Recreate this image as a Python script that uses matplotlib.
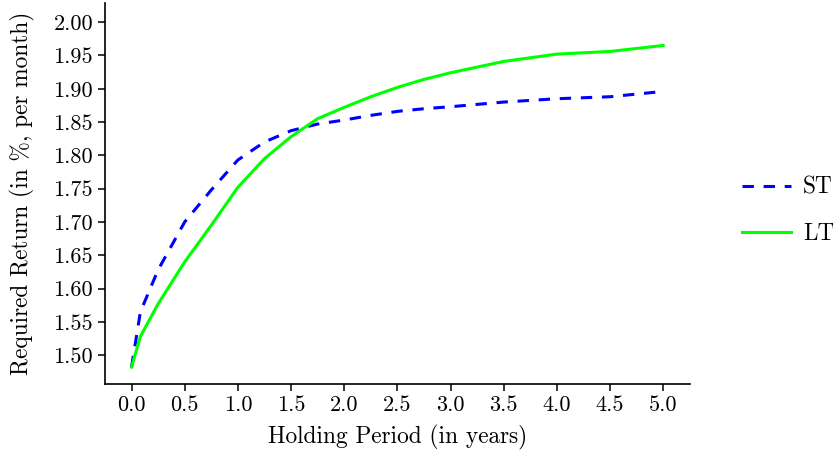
import numpy as np
import matplotlib
matplotlib.use("Agg")
import matplotlib.pyplot as plt

plt.rcParams['font.family'] = ['cmr10', 'DejaVu Serif']
plt.rcParams['mathtext.fontset'] = 'cm'
plt.rcParams['axes.formatter.use_mathtext'] = True
plt.rcParams['lines.scale_dashes'] = False

# holding period (years)
years = [0.0, 1/12, 0.25, 0.5, 0.75, 1.0, 1.25, 1.5, 1.75, 2.0,
         2.25, 2.5, 2.75, 3.0, 3.5, 4.0, 4.5, 5.0]
# required return, % per month
st = [1.482, 1.565, 1.628, 1.700, 1.748, 1.793, 1.820, 1.837, 1.847, 1.853,
      1.860, 1.866, 1.870, 1.873, 1.880, 1.885, 1.888, 1.896]
lt = [1.482, 1.528, 1.577, 1.640, 1.695, 1.752, 1.795, 1.828, 1.855, 1.872,
      1.888, 1.902, 1.914, 1.924, 1.941, 1.952, 1.956, 1.965]

xticks = [0.0, 0.5, 1.0, 1.5, 2.0, 2.5, 3.0, 3.5, 4.0, 4.5, 5.0]
yticks = [1.50, 1.55, 1.60, 1.65, 1.70, 1.75, 1.80, 1.85, 1.90, 1.95, 2.00]

fs = 16.8

fig = plt.figure(figsize=(8.33, 4.54), dpi=100)
ax = fig.add_axes([0.126, 0.154, 0.702, 0.839])

ax.plot(years, st, color='#0000ff', lw=2.2, dashes=(8.2, 7.0), label='ST')
ax.plot(years, lt, color='#00ff00', lw=2.2, label='LT')

ax.set_xlim(-0.25, 5.25)
ax.set_ylim(1.4565, 2.0285)
ax.set_xticks(xticks)
ax.set_xticklabels(['%.1f' % v for v in xticks])
ax.set_yticks(yticks)
ax.set_yticklabels(['%.2f' % v for v in yticks])
ax.tick_params(labelsize=16, length=5, width=1.1, direction='out')

for s in ['top', 'right']:
    ax.spines[s].set_visible(False)
for s in ['left', 'bottom']:
    ax.spines[s].set_linewidth(1.2)

ax.set_xlabel('Holding Period (in years)', fontsize=fs, labelpad=7)
ax.set_ylabel('Required Return (in %, per month)', fontsize=fs, labelpad=13)

fig.legend(loc='center left', bbox_to_anchor=(0.866, 0.535), frameon=False,
           fontsize=fs, handlelength=2.1, handletextpad=0.5, labelspacing=1.05)

fig.savefig('out.png', dpi=100)
